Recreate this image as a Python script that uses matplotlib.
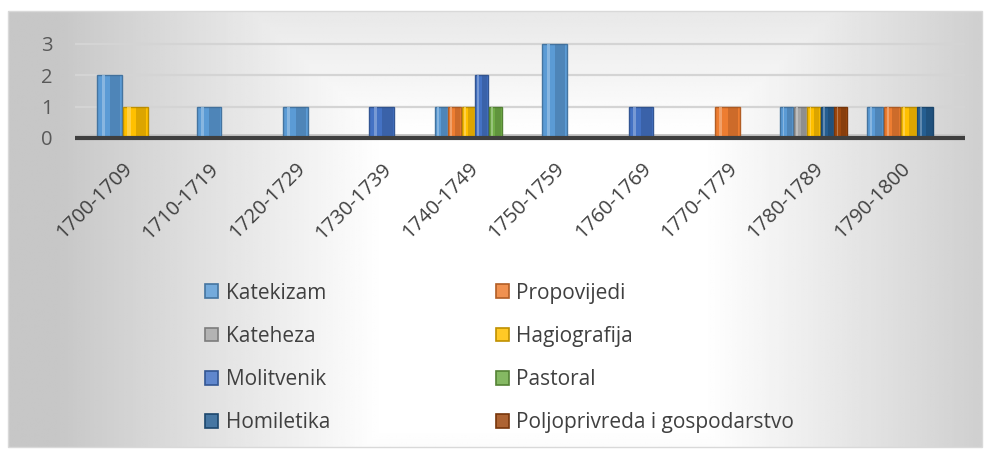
import matplotlib
matplotlib.use('Agg')
import matplotlib.pyplot as plt
import matplotlib.colors as mcolors
from matplotlib.patches import Patch, Rectangle
import numpy as np

plt.rcParams['font.family'] = ['Open Sans', 'DejaVu Sans']

categories = ['1700-1709', '1710-1719', '1720-1729', '1730-1739', '1740-1749',
              '1750-1759', '1760-1769', '1770-1779', '1780-1789', '1790-1800']
series_names = ['Katekizam', 'Propovijedi', 'Kateheza', 'Hagiografija',
                'Molitvenik', 'Pastoral', 'Homiletika', 'Poljoprivreda i gospodarstvo']
katekizam = [2, 1, 1, 0, 1, 3, 0, 0, 1, 1]
propovijedi = [0, 0, 0, 0, 1, 0, 0, 1, 0, 1]
kateheza = [0, 0, 0, 0, 0, 0, 0, 0, 1, 0]
hagiografija = [1, 0, 0, 0, 1, 0, 0, 0, 1, 1]
molitvenik = [0, 0, 0, 1, 2, 0, 1, 0, 0, 0]
pastoral = [0, 0, 0, 0, 1, 0, 0, 0, 0, 0]
homiletika = [0, 0, 0, 0, 0, 0, 0, 0, 1, 1]
poljoprivreda = [0, 0, 0, 0, 0, 0, 0, 0, 1, 0]
yticks = [0, 1, 2, 3]

series = [katekizam, propovijedi, kateheza, hagiografija,
          molitvenik, pastoral, homiletika, poljoprivreda]
colors = ['#5B9BD5', '#ED7D31', '#A5A5A5', '#FFC000',
          '#4472C4', '#70AD47', '#255E91', '#9E480E']


def shade(c, f):
    r = np.array(mcolors.to_rgb(c))
    if f < 1:
        return tuple(r * f)
    return tuple(r + (1 - r) * (f - 1))


W, H = 986, 457
fig = plt.figure(figsize=(W / 100, H / 100), dpi=100)

# soft grey background with a bright centre
bg = fig.add_axes([0, 0, 1, 1], zorder=-10)
bg.set_axis_off()
gx, gy = np.meshgrid(np.linspace(0, 1, 400), np.linspace(0, 1, 200))
u = np.abs(gx - 0.55) / 0.5
v = np.abs(gy - 0.62) / 0.62
d = np.clip((np.maximum(u, v * 0.6) - 0.33) / 0.67, 0, 1)
img = 1 - 0.22 * d
x0, x1 = 8 / W, 982 / W
y0, y1 = 1 - 446 / H, 1 - 10 / H
bg.imshow(img, cmap='gray', vmin=0, vmax=1, extent=[x0, x1, y1, y0],
          aspect='auto')
bg.set_xlim(0, 1)
bg.set_ylim(1, 0)
bg.add_patch(Rectangle((x0, y0), x1 - x0, y1 - y0, fill=False,
                       edgecolor='#d9d9d9', lw=1))

ax = fig.add_axes([75 / W, 1 - 141 / H, 890 / W, (141 - 37.7) / H])
ax.set_facecolor('none')
ax.set_xlim(-0.55, 9.75)
ax.set_ylim(-0.1, 3.2)

for yv in yticks[1:]:
    ax.axhline(yv, color='#d4d4d4', lw=1.6, zorder=0)
ax.axhspan(0, 0.12, color='#c8c8c8', lw=0, zorder=0.5)
ax.axhline(0, color='#3f3f3f', lw=3, zorder=3)

x = np.arange(len(categories))
for i in range(len(categories)):
    present = [k for k in range(len(series)) if series[k][i] > 0]
    n = len(present)
    w = min(0.3, 0.78 / max(n, 1))
    for j, k in enumerate(present):
        xc = x[i] + (j - (n - 1) / 2) * w
        val = series[k][i]
        c = colors[k]
        ax.bar(xc, val, w * 0.95, color=c, edgecolor=shade(c, 0.75),
               lw=1, zorder=2)
        ax.bar(xc + w * 0.22, val, w * 0.4, color=shade(c, 0.7),
               alpha=0.45, lw=0, zorder=2.1)
        ax.bar(xc - w * 0.25, val, w * 0.12, color=shade(c, 1.35),
               alpha=0.8, lw=0, zorder=2.2)

for s in ax.spines.values():
    s.set_visible(False)
ax.set_yticks(yticks)
ax.set_yticklabels([str(t) for t in yticks], fontsize=14.5, color='#595959')
ax.tick_params(axis='y', length=0, pad=16)
ax.set_xticks(x)
ax.set_xticklabels(categories, rotation=45, ha='right',
                   rotation_mode='anchor', fontsize=14.5, color='#404040')
ax.tick_params(axis='x', length=0, pad=13)

# legend reads row by row, matplotlib fills column by column
order = [0, 2, 4, 6, 1, 3, 5, 7]
handles = [Patch(facecolor=shade(colors[k], 1.15),
                 edgecolor=shade(colors[k], 0.75), lw=1.2) for k in order]
labels = [series_names[k] for k in order]
fig.legend(handles, labels, ncol=2, loc='upper left',
           bbox_to_anchor=(186 / W, 1 - 264 / H), frameon=False,
           fontsize=15, labelcolor='#404040', handlelength=0.65,
           handleheight=0.65, handletextpad=0.35, columnspacing=7.95,
           labelspacing=1.06)

fig.savefig('out.png', dpi=100)
